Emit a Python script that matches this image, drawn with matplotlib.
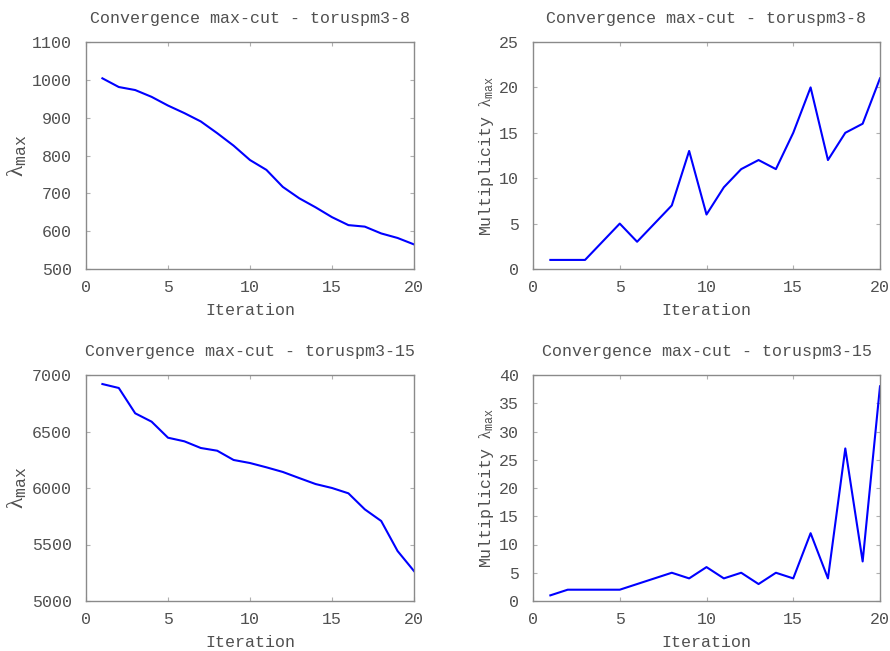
import matplotlib
matplotlib.use("Agg")
import matplotlib.pyplot as plt

# ── data ─────────────────────────────────────────────────────────────
iterations = list(range(1, 21))

lam_t8 = [1004, 981, 973, 955, 932, 912, 890, 859, 826, 788,
          762, 717, 687, 663, 637, 616, 612, 594, 582, 565]
mult_t8 = [1, 1, 1, 3, 5, 3, 5, 7, 13, 6,
           9, 11, 12, 11, 15, 20, 12, 15, 16, 21]

lam_t15 = [6920, 6885, 6661, 6587, 6445, 6413, 6354, 6330, 6248, 6221,
           6183, 6142, 6088, 6035, 6000, 5953, 5811, 5708, 5442, 5265]
mult_t15 = [1, 2, 2, 2, 2, 3, 4, 5, 4, 6,
            4, 5, 3, 5, 4, 12, 4, 27, 7, 38]

titles = ["Convergence max-cut - toruspm3-8", "Convergence max-cut - toruspm3-15"]

# ── style ────────────────────────────────────────────────────────────
plt.rcParams["font.family"] = ["Liberation Mono", "DejaVu Sans Mono"]
plt.rcParams["font.size"] = 12
plt.rcParams["mathtext.fontset"] = "custom"
plt.rcParams["mathtext.rm"] = "Liberation Serif"
plt.rcParams["mathtext.it"] = "Liberation Serif"
plt.rcParams["mathtext.tt"] = "Liberation Mono"

TEXT = "#505050"
AXIS = "#8a8a8a"
LAM = r"$\mathrm{\lambda}_{\mathtt{max}}$"

fig = plt.figure(figsize=(8.9, 6.51), dpi=100)

# axes boxes in pixel coords (left, top, right, bottom)
boxes = [(86, 42, 414, 269), (533, 42, 880, 269),
         (86, 375, 414, 601), (533, 375, 880, 601)]
W, H = 890, 651


def make_ax(box):
    l, t, r, b = box
    return fig.add_axes([l / W, 1 - b / H, (r - l) / W, (b - t) / H])


def style(ax, title, ylabel, ylim, yticks, ysize):
    ax.set_xlim(0, 20)
    ax.set_xticks([0, 5, 10, 15, 20])
    ax.set_ylim(*ylim)
    ax.set_yticks(yticks)
    ax.set_title(title, color=TEXT, fontsize=12, pad=14)
    ax.set_xlabel("Iteration", color=TEXT, labelpad=6)
    ax.set_ylabel(ylabel, color=TEXT, fontsize=ysize, labelpad=2)
    for sp in ax.spines.values():
        sp.set_color(AXIS)
        sp.set_linewidth(1.0)
    ax.tick_params(direction="in", length=3, color="#b0b0b0", labelcolor=TEXT,
                   top=True, right=True, labelsize=12)
    ax.tick_params(axis="x", pad=8)
    ax.tick_params(axis="y", pad=10)


ax1 = make_ax(boxes[0])
ax1.plot(iterations, lam_t8, color="#0000ff", linewidth=1.5)
style(ax1, titles[0], LAM, (500, 1100), range(500, 1101, 100), 17)

ax2 = make_ax(boxes[1])
ax2.plot(iterations, mult_t8, color="#0000ff", linewidth=1.5)
style(ax2, titles[0], "Multiplicity " + LAM, (0, 25), range(0, 26, 5), 12)

ax3 = make_ax(boxes[2])
ax3.plot(iterations, lam_t15, color="#0000ff", linewidth=1.5)
style(ax3, titles[1], LAM, (5000, 7000), range(5000, 7001, 500), 17)

ax4 = make_ax(boxes[3])
ax4.plot(iterations, mult_t15, color="#0000ff", linewidth=1.5)
style(ax4, titles[1], "Multiplicity " + LAM, (0, 40), range(0, 41, 5), 12)

fig.savefig("out.png", dpi=100)
